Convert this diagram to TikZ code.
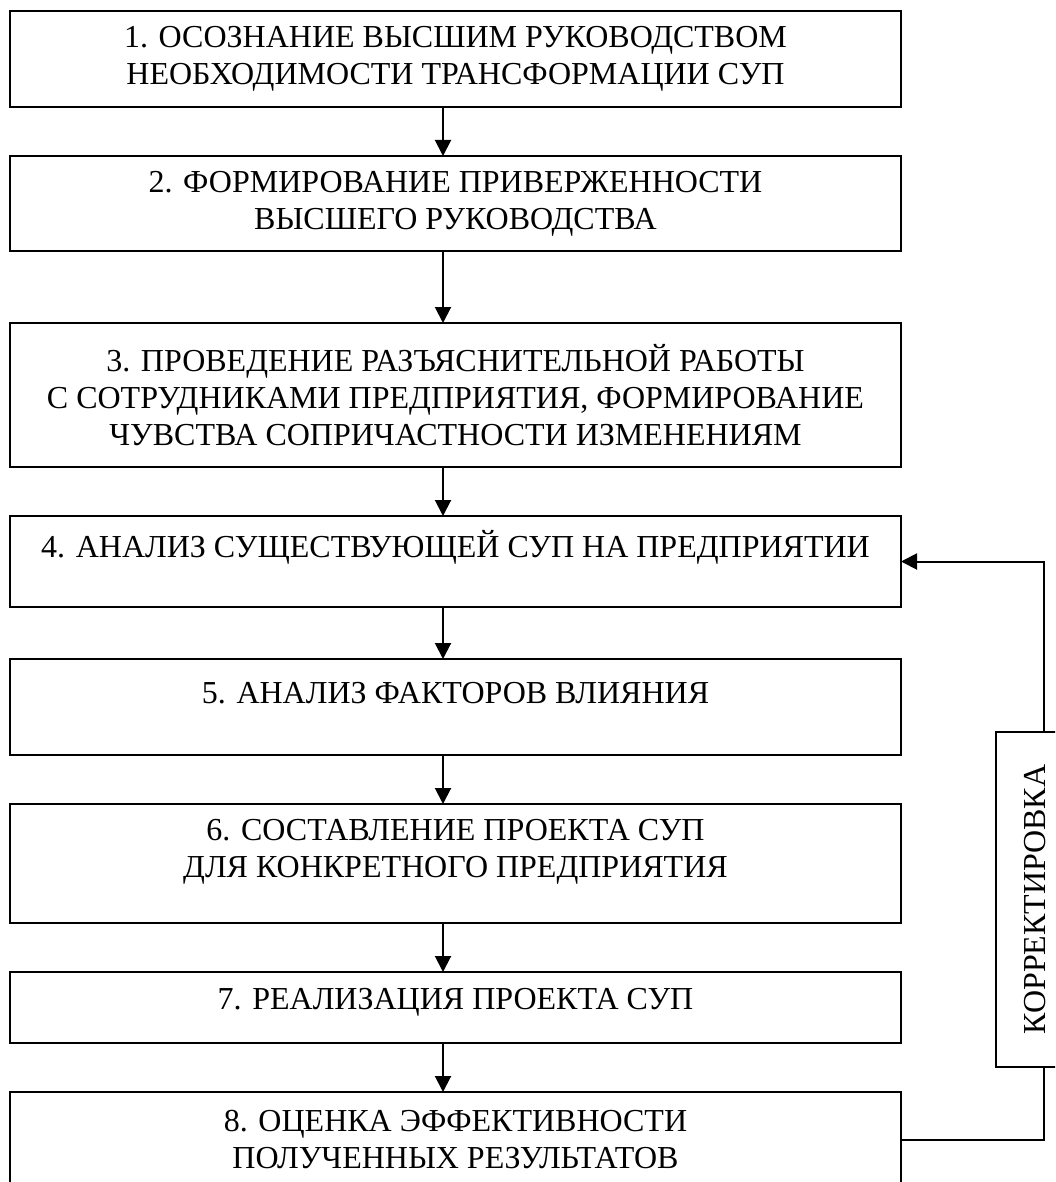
\documentclass[tikz,border=0pt]{standalone}
\usepackage{fontspec}
\setmainfont{Liberation Serif}
\usetikzlibrary{arrows.meta,positioning}

% extra depth below the text pushes it up inside its box
\newcommand{\upshift}[2]{\raisebox{0pt}[\height][\dimexpr\depth+#1\relax]{#2}}

\begin{document}
\begin{tikzpicture}[
    x=0.5pt, y=-0.5pt,
    node distance=24.5pt,
    >={Triangle[length=8pt,width=8pt]},
    box/.style={rectangle, draw=black, line width=1.1pt, outer sep=0pt, minimum width=445.5pt, align=center, inner sep=0pt, font=\fontsize{16}{18.5}\selectfont},
    flow/.style={->, line width=1pt}
]
\useasboundingbox (0,0) rectangle (1055,1182);
\clip (0,0) rectangle (1055,1182);

% Stages
\node[box, minimum height=48pt] (b1) at (455.5,59) {1. ОСОЗНАНИЕ ВЫСШИМ РУКОВОДСТВОМ\\НЕОБХОДИМОСТИ ТРАНСФОРМАЦИИ СУП};
\node[box, minimum height=47.5pt, below=of b1] (b2) {2. ФОРМИРОВАНИЕ ПРИВЕРЖЕННОСТИ\\ВЫСШЕГО РУКОВОДСТВА};
\node[box, minimum height=72pt, below=36pt of b2] (b3) {3. ПРОВЕДЕНИЕ РАЗЪЯСНИТЕЛЬНОЙ РАБОТЫ\\С СОТРУДНИКАМИ ПРЕДПРИЯТИЯ, ФОРМИРОВАНИЕ\\ЧУВСТВА СОПРИЧАСТНОСТИ ИЗМЕНЕНИЯМ};
\node[box, minimum height=45.5pt, below=of b3] (b4) {\upshift{14.5pt}{4. АНАЛИЗ СУЩЕСТВУЮЩЕЙ СУП НА ПРЕДПРИЯТИИ}};
\node[box, minimum height=48pt, below=26pt of b4] (b5) {\upshift{14pt}{5. АНАЛИЗ ФАКТОРОВ ВЛИЯНИЯ}};
\node[box, minimum height=59.5pt, below=of b5] (b6) {\upshift{12pt}{\begin{tabular}{@{}c@{}}6. СОСТАВЛЕНИЕ ПРОЕКТА СУП\\ДЛЯ КОНКРЕТНОГО ПРЕДПРИЯТИЯ\end{tabular}}};
\node[box, minimum height=35.5pt, below=of b6] (b7) {\upshift{5pt}{7. РЕАЛИЗАЦИЯ ПРОЕКТА СУП}};
\node[box, minimum height=47.5pt, below=of b7] (b8) {8. ОЦЕНКА ЭФФЕКТИВНОСТИ\\ПОЛУЧЕННЫХ РЕЗУЛЬТАТОВ};

% Correction box
\node[box, rotate=90, minimum width=167.5pt, minimum height=39.5pt] (korr) at (1035.5,899.5) {КОРРЕКТИРОВКА};

% Arrows
\coordinate (ax) at (443,0);
\foreach \a/\b in {b1/b2, b2/b3, b3/b4, b4/b5, b5/b6, b6/b7, b7/b8} {
    \draw[flow] (\a.south -| ax) -- (\b.north -| ax);
}

% Feedback loop
\coordinate (fb) at (1044,0);
\draw[line width=1pt] (b8.east) -| (fb |- korr.west);
\draw[flow] (fb |- korr.east) |- (b4.east);

\end{tikzpicture}
\end{document}
